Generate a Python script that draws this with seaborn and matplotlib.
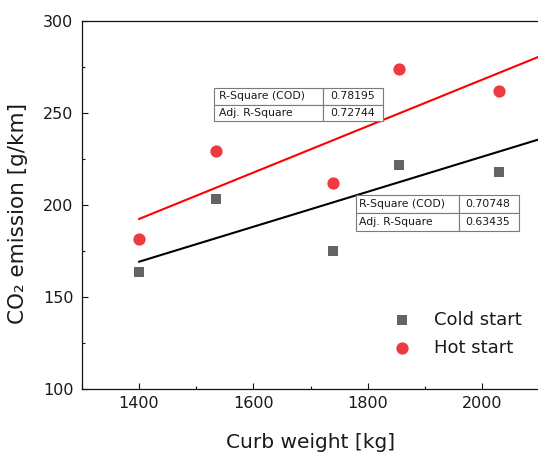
import matplotlib
matplotlib.use("Agg")
import matplotlib.pyplot as plt
import seaborn as sns
import pandas as pd
from matplotlib.ticker import MultipleLocator

# ---- data ----
curb_weight = [1400, 1535, 1740, 1855, 2030]
cold_start = [163.5, 203.3, 175.3, 221.8, 218.1]
hot_start = [181.4, 229.5, 211.8, 273.8, 262.0]
series_labels = ["Cold start", "Hot start"]

fit_x = [1400, 2100]
cold_fit = [169.2, 235.7]
hot_fit = [192.4, 280.6]

hot_stats_labels = ["R-Square (COD)", "Adj. R-Square"]
hot_stats_values = ["0.78195", "0.72744"]
cold_stats_labels = ["R-Square (COD)", "Adj. R-Square"]
cold_stats_values = ["0.70748", "0.63435"]

x_ticks = [1400, 1600, 1800, 2000]
y_ticks = [100, 150, 200, 250, 300]

# ---- style ----
sns.set_style("ticks")
plt.rcParams["font.family"] = ["DejaVu Sans"]
plt.rcParams["xtick.direction"] = "in"
plt.rcParams["ytick.direction"] = "in"

COLD = "#646464"
HOT = "#EE3B3F"
TXT = "#1a1a1a"

fig = plt.figure(figsize=(5.38, 4.57), dpi=100)
ax = fig.add_axes([81.7 / 538, (457 - 389.3) / 457, 457.8 / 538, 368.6 / 457])

sns.lineplot(x=fit_x, y=cold_fit, color="black", linewidth=1.5, ax=ax, zorder=2)
sns.lineplot(x=fit_x, y=hot_fit, color="#FF0000", linewidth=1.5, ax=ax, zorder=2)
sns.scatterplot(x=curb_weight, y=cold_start, marker="s", color=COLD, s=62,
                linewidth=0, ax=ax, zorder=3, label=series_labels[0])
sns.scatterplot(x=curb_weight, y=hot_start, marker="o", color=HOT, s=78,
                linewidth=0, ax=ax, zorder=3, label=series_labels[1])

ax.set_xlim(1300, 2100)
ax.set_ylim(100, 300)
ax.set_xticks(x_ticks)
ax.set_yticks(y_ticks)
ax.xaxis.set_minor_locator(MultipleLocator(100))
ax.yaxis.set_minor_locator(MultipleLocator(25))
ax.tick_params(which="major", length=4.5, width=0.8, labelsize=11.5, color="#111111",
               labelcolor=TXT, pad=5)
ax.tick_params(which="minor", length=2.3, width=0.8, color="#111111")
ax.tick_params(axis="y", pad=6)
for sp in ax.spines.values():
    sp.set_linewidth(0.9)
    sp.set_color("#111111")

ax.set_xlabel("Curb weight [kg]", fontsize=14.5, labelpad=16, color=TXT)
ax.set_ylabel("CO\u2082 emission [g/km]", fontsize=15.5, color=TXT)
ax.yaxis.set_label_coords(-0.118, 0.478)

ax.legend(loc="center left", bbox_to_anchor=(0.625, 0.15), frameon=False,
          fontsize=13, handletextpad=0.75, labelspacing=0.55, labelcolor=TXT)

def add_table(labels, values, bbox, col0, pads):
    rows = [[l, v] for l, v in zip(labels, values)]
    t = ax.table(cellText=rows, colWidths=[col0, 1 - col0], bbox=bbox,
                 cellLoc="left", zorder=4)
    t.auto_set_font_size(False)
    t.set_fontsize(7.8)
    for (r, c), cell in t.get_celld().items():
        cell.set_edgecolor("#7a7a7a")
        cell.set_linewidth(0.8)
        cell.set_facecolor("white")
        cell.PAD = pads[c]
        cell.get_text().set_color(TXT)
        if c == 1:
            cell._loc = "right"
    return t

add_table(hot_stats_labels, hot_stats_values, [0.289, 0.7287, 0.369, 0.0879], 0.647, (0.045, 0.12))
add_table(cold_stats_labels, cold_stats_values, [0.5985, 0.4295, 0.356, 0.0977], 0.632, (0.035, 0.11))

fig.savefig("out.png", dpi=100)
